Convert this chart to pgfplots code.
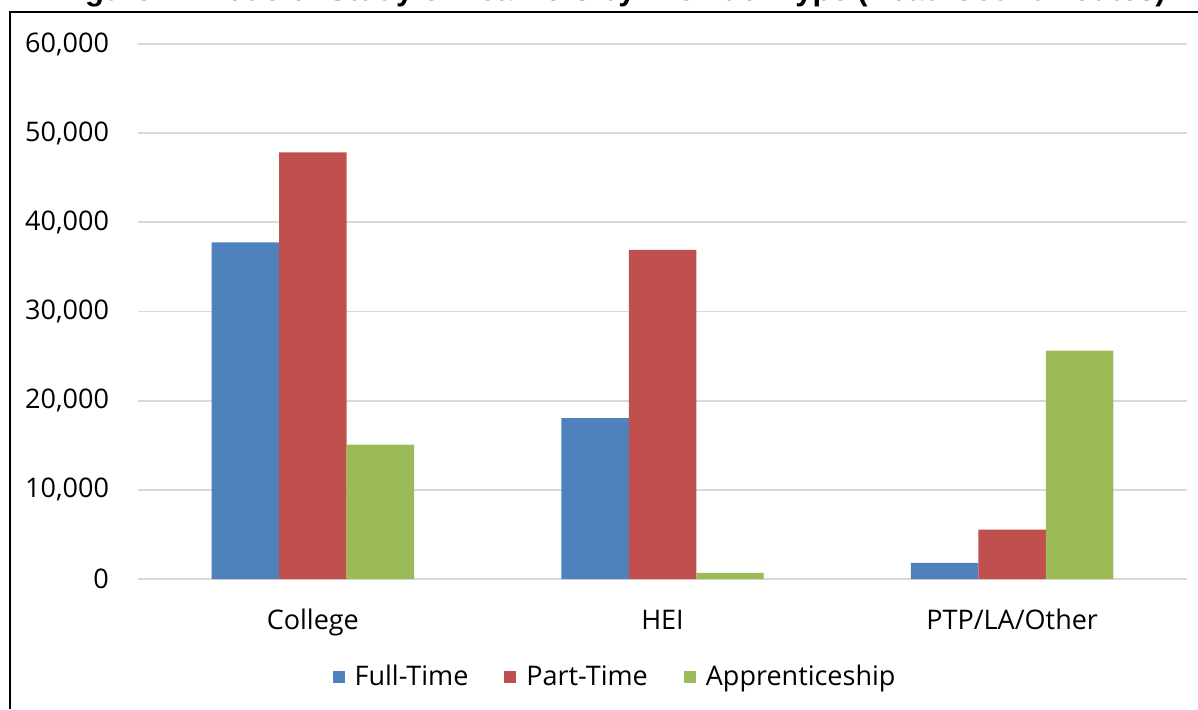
\documentclass[border=0pt]{standalone}
\usepackage{pgfplots}
\pgfplotsset{compat=1.18}
\usepackage{fontspec}
\setmainfont{Open Sans}
\newfontfamily\titlefont{Liberation Sans}

\definecolor{ftblue}{HTML}{4F81BD}
\definecolor{ptred}{HTML}{C0504D}
\definecolor{apgreen}{HTML}{9BBB59}
\definecolor{gridgray}{HTML}{D9D9D9}

\begin{document}
\begin{tikzpicture}
% page = 1198 x 709 px at 0.5pt per px
\useasboundingbox (0pt,0pt) rectangle (599pt,354.5pt);

% title, cut off by the top of the page as in the reference
\node[anchor=base east, inner sep=0pt, font=\titlefont\bfseries\fontsize{15.5}{18}\selectfont]
  at (583pt,354pt) {Figure 4: Mode of Study of Learners by Provider Type (Head Count Routes)};

% chart frame (left and top edges only are in view)
\draw[line width=1pt] (5pt,0pt) -- (5pt,348.3pt) -- (610pt,348.3pt);

\begin{axis}[
    at={(69pt,65pt)}, anchor=south west,
    scale only axis,
    width=524.5pt, height=267.5pt,
    xmin=-0.5, xmax=2.5,
    ymin=0, ymax=60000,
    ytick={0,10000,...,60000},
    xtick={0,1,2},
    xticklabels={College,HEI,PTP/LA/Other},
    axis line style={draw=none},
    major tick length=0pt,
    ymajorgrids,
    grid style={draw=gridgray, line width=0.9pt},
    scaled y ticks=false,
    /pgf/number format/.cd, 1000 sep={,}, assume math mode=true,
    /pgfplots/.cd,
    tick label style={font=\fontsize{13.5}{16}\selectfont, text=black},
    yticklabel style={anchor=east, xshift=-11pt},
    xticklabel style={anchor=base, yshift=-25pt},
    ybar, bar width=0.193,
    legend style={at={(0.4557,-0.183)}, anchor=center, draw=none,
        font=\fontsize{13.5}{16}\selectfont, legend columns=3,
        /tikz/every odd column/.append style={column sep=3pt},
        /tikz/every even column/.append style={column sep=16pt}},
    legend image code/.code={\fill[#1] (0pt,-3pt) rectangle (6pt,3pt);},
]
\addplot[fill=ftblue, draw=none, bar shift=-0.193] coordinates {(0,37760) (1,18050) (2,1800)};
\addlegendentry{Full-Time}
\addplot[fill=ptred, draw=none, bar shift=0] coordinates {(0,47840) (1,36900) (2,5540)};
\addlegendentry{Part-Time}
\addplot[fill=apgreen, draw=none, bar shift=0.193] coordinates {(0,15060) (1,700) (2,25600)};
\addlegendentry{Apprenticeship}
\end{axis}
\end{tikzpicture}
\end{document}
